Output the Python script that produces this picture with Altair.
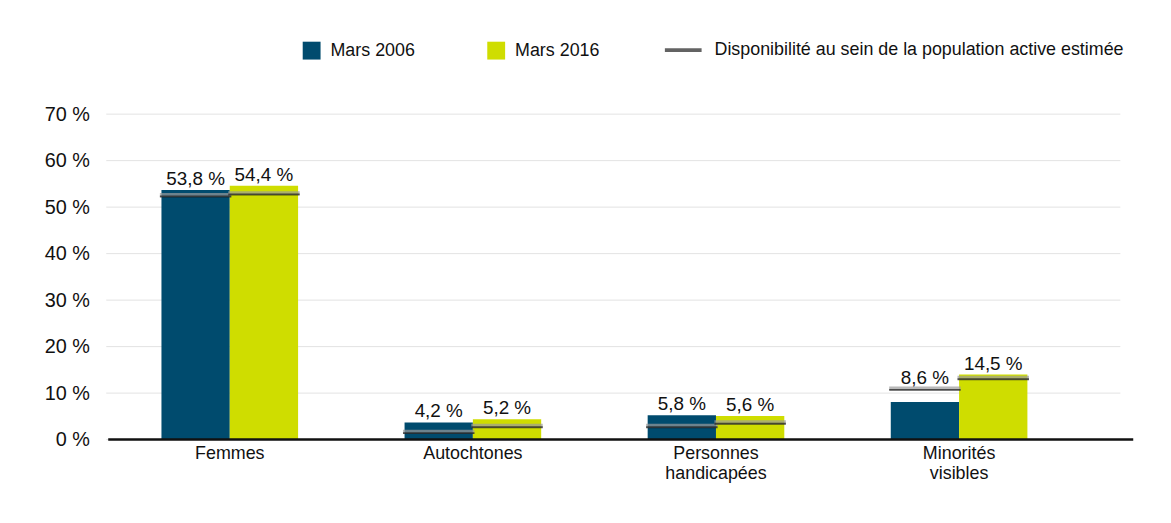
import altair as alt
import pandas as pd

categories = ["Femmes", "Autochtones", "Personnes handicapées", "Minorités visibles"]
series = ["Mars 2006", "Mars 2016"]
values_2006 = [53.7, 3.7, 5.25, 8.1]
values_2016 = [54.6, 4.4, 5.1, 14.0]
avail_2006 = [52.4, 1.5, 2.75, 10.8]
avail_2016 = [52.8, 2.75, 3.5, 13.1]
labels_2006 = ["53,8 %", "4,2 %", "5,8 %", "8,6 %"]
labels_2016 = ["54,4 %", "5,2 %", "5,6 %", "14,5 %"]
avail_name = "Disponibilité au sein de la population active estimée"
colors = ["#004B6E", "#CFDD00"]
y_ticks = [0, 10, 20, 30, 40, 50, 60, 70]

rows = []
for s, vals, av, lab in [(series[0], values_2006, avail_2006, labels_2006),
                         (series[1], values_2016, avail_2016, labels_2016)]:
    for c, v, a, l in zip(categories, vals, av, lab):
        rows.append({"category": c, "series": s, "value": v, "avail": a,
                     "label": l, "avail_name": avail_name})
df = pd.DataFrame(rows)

W, H = 1033, 328
FONT = "Liberation Sans, Arial, sans-serif"

xenc = alt.X("category:N", sort=categories,
             scale=alt.Scale(range=[0, 980], paddingInner=0.438, paddingOuter=0.219),
             axis=alt.Axis(title=None, labelAngle=0, domain=False, ticks=False,
                           labelFontSize=18, labelPadding=5, labelColor="#111",
                           labelFont=FONT, labelLineHeight=20,
                           labelExpr="split(datum.value, ' ')"))
xoff = alt.XOffset("series:N", sort=series, scale=alt.Scale(paddingInner=0, paddingOuter=0))
yaxis = alt.Axis(title=None, values=y_ticks, labelExpr="datum.value + ' %'",
                 domain=False, ticks=False, grid=False,
                 labelFontSize=20, labelPadding=19, labelColor="#111", labelFont=FONT)
yscale = alt.Scale(domain=[0, 70], nice=False)

grid = alt.Chart(pd.DataFrame({"g": y_ticks})).mark_rule(color="#e3e3e3", strokeWidth=1).encode(
    y=alt.Y("g:Q", scale=yscale, axis=yaxis), x=alt.value(-2), x2=alt.value(1020))

base = alt.Chart(df).encode(x=xenc, xOffset=xoff)

bars = base.mark_bar().encode(
    y=alt.Y("value:Q", scale=yscale, axis=yaxis),
    color=alt.Color("series:N", sort=series,
                    scale=alt.Scale(domain=series, range=colors),
                    legend=alt.Legend(title=None, orient="none", legendX=196, legendY=-73,
                                      direction="horizontal", symbolType="square",
                                      symbolSize=324, symbolStrokeWidth=0,
                                      labelFontSize=18, labelOffset=10, columnPadding=72,
                                      labelFont=FONT, labelColor="#111")),
)

def ticks(s, shift, color, thick, yoff, legend):
    enc = dict(y=alt.Y("avail:Q", scale=yscale, axis=yaxis))
    if legend:
        enc["color"] = alt.Color("avail_name:N",
                                 scale=alt.Scale(range=["#1a1a1a"]),
                                 legend=alt.Legend(title=None, orient="none", legendX=559,
                                                   legendY=-85, symbolType="stroke",
                                                   symbolSize=1369, symbolStrokeWidth=4,
                                                   symbolStrokeColor="#222",
                                                   labelFontSize=18, labelOffset=11,
                                                   labelLimit=600, labelFont=FONT,
                                                   labelColor="#111"))
        mark = base.mark_tick(thickness=thick, size=72, xOffset=shift, yOffset=yoff)
    else:
        mark = base.mark_tick(color=color, thickness=thick, size=72, xOffset=shift, yOffset=yoff)
    return mark.transform_filter(alt.datum.series == s).encode(**enc)

grey = alt.layer(ticks(series[0], -2, "#9b9b9b", 4, -1, False),
                 ticks(series[1], 2, "#9b9b9b", 4, -1, False))
black = alt.layer(ticks(series[0], -2, "#1a1a1a", 2, 0.5, True),
                  ticks(series[1], 2, "#1a1a1a", 2, 0.5, True))

labels = base.mark_text(baseline="alphabetic", dy=-5, fontSize=19, font=FONT,
                        color="#111").transform_calculate(
    top="max(datum.value, datum.avail)"
).encode(y=alt.Y("top:Q", scale=yscale, axis=yaxis), text="label:N")

baseline = alt.Chart(pd.DataFrame({"y": [0]})).mark_rule(color="#111", strokeWidth=2.5).encode(
    y=alt.Y("y:Q", scale=yscale, axis=yaxis), x=alt.value(0), x2=alt.value(W))

chart = alt.layer(grid, bars, grey, black, labels, baseline).resolve_scale(
    color="independent"
).properties(
    width=W, height=H,
    autosize=alt.AutoSizeParams(type="none"),
    padding={"left": 101, "top": 105, "right": 30, "bottom": 70},
).configure_view(stroke=None)

chart.save("out.html", embed_options={"renderer": "svg", "actions": False})
